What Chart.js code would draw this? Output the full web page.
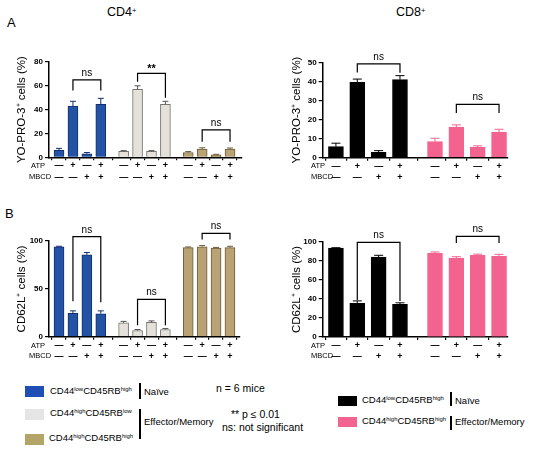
<!DOCTYPE html>
<html>
<head>
<meta charset="utf-8">
<script src="https://cdn.jsdelivr.net/npm/chart.js@4/dist/chart.umd.min.js"></script>
<style>
  body { margin: 0; width: 550px; height: 451px; position: relative; background: #fff; overflow: hidden;
         font-family: "Liberation Sans", Arial, sans-serif; color: #000; }
  canvas, .t { position: absolute; }
  .t { white-space: nowrap; line-height: 1; }
  .t sup { font-size: 0.62em; vertical-align: 0.45em; line-height: 0; }
  .sq { position: absolute; }
  .vb { position: absolute; width: 1.6px; background: #000; }
</style>
</head>
<body>
<div class="t" style="left:7px;top:16px;font-size:13px">A</div>
<div class="t" style="left:5px;top:207px;font-size:13px">B</div>
<div class="t" style="left:107px;top:6px;font-size:12.5px">CD4<sup>+</sup></div>
<div class="t" style="left:396px;top:6px;font-size:12.5px">CD8<sup>+</sup></div>

<canvas id="tl" width="260" height="135" style="left:0;top:50px"></canvas>
<canvas id="tr" width="275" height="135" style="left:275px;top:50px"></canvas>
<canvas id="bl" width="260" height="150" style="left:0;top:215px"></canvas>
<canvas id="br" width="275" height="150" style="left:275px;top:215px"></canvas>

<div class="t" style="left:31px;top:162px;font-size:7.5px">ATP</div>
<div class="t" style="left:29px;top:173px;font-size:7.5px">MBCD</div>
<div class="t" style="left:311px;top:162px;font-size:7.5px">ATP</div>
<div class="t" style="left:311px;top:173px;font-size:7.5px">MBCD</div>
<div class="t" style="left:31px;top:342px;font-size:7.5px">ATP</div>
<div class="t" style="left:29px;top:352px;font-size:7.5px">MBCD</div>
<div class="t" style="left:311px;top:342px;font-size:7.5px">ATP</div>
<div class="t" style="left:311px;top:352px;font-size:7.5px">MBCD</div>

<!-- CD4 legend -->
<div class="sq" style="left:25px;top:386px;width:19px;height:11px;background:#1f4fb5"></div>
<div class="t" style="left:50px;top:386px;font-size:9.5px">CD44<sup>low</sup>CD45RB<sup>high</sup></div>
<div class="vb" style="left:139px;top:383px;height:16px"></div>
<div class="t" style="left:144px;top:387px;font-size:9.5px">Naïve</div>
<div class="sq" style="left:25px;top:409px;width:19px;height:11px;background:#e5e5e5"></div>
<div class="t" style="left:50px;top:408px;font-size:9.5px">CD44<sup>high</sup>CD45RB<sup>low</sup></div>
<div class="sq" style="left:25px;top:434px;width:19px;height:11px;background:#b3a467"></div>
<div class="t" style="left:49px;top:433px;font-size:9.5px">CD44<sup>high</sup>CD45RB<sup>high</sup></div>
<div class="vb" style="left:139px;top:409px;height:30px"></div>
<div class="t" style="left:144px;top:417px;font-size:9.5px">Effector/Memory</div>

<div class="t" style="left:216px;top:383px;font-size:10.5px">n = 6 mice</div>
<div class="t" style="left:231px;top:409px;font-size:10.5px">** p ≤ 0.01</div>
<div class="t" style="left:222px;top:422px;font-size:10.5px">ns: not significant</div>

<!-- CD8 legend -->
<div class="sq" style="left:338px;top:396px;width:19px;height:10px;background:#000"></div>
<div class="t" style="left:362px;top:395px;font-size:9.5px">CD44<sup>low</sup>CD45RB<sup>high</sup></div>
<div class="vb" style="left:450px;top:392px;height:14px"></div>
<div class="t" style="left:455px;top:396px;font-size:9.5px">Naïve</div>
<div class="sq" style="left:338px;top:417px;width:19px;height:10px;background:#f2648f"></div>
<div class="t" style="left:362px;top:416px;font-size:9.5px">CD44<sup>high</sup>CD45RB<sup>high</sup></div>
<div class="vb" style="left:450px;top:416px;height:14px"></div>
<div class="t" style="left:455px;top:417px;font-size:9.5px">Effector/Memory</div>

<script>
// treatment rows under each bar
const signsATP = ['—', '+', '—', '+'];
const signsMBCD = ['—', '—', '+', '+'];

// YO-PRO-3+ (%) - CD4 groups: naive, CD44hi CD45RBlo, CD44hi CD45RBhi
const cd4YoPro = [[5.8, 43, 3, 44.5], [5, 57, 5, 44.5], [4, 7, 2, 7]];
const cd4YoProErr = [[1.7, 4, 1, 5], [0.6, 3, 0.6, 2.5], [0.8, 1, 0.5, 0.8]];
// YO-PRO-3+ (%) - CD8 groups: naive, CD44hi CD45RBhi
const cd8YoPro = [[5.8, 39.5, 2.8, 40.9], [8.4, 16, 5.5, 13.4]];
const cd8YoProErr = [[1.8, 1.7, 0.9, 2.1], [1.8, 1.2, 0.7, 1.5]];

// CD62L+ (%)
const cd4Cd62l = [[94, 24.5, 85.5, 24], [14.5, 6.5, 15, 7.5], [93, 94, 92.5, 93]];
const cd4Cd62lErr = [[0.5, 2.5, 2.5, 3], [1.5, 1, 1.5, 1], [0.8, 1.2, 0.8, 1.5]];
const cd8Cd62l = [[93.7, 35.5, 84, 34.5], [88, 83, 86, 85]];
const cd8Cd62lErr = [[0.3, 2.5, 2, 1.5], [1.5, 1.5, 1.2, 2]];

// significance brackets: group, bars from/to, bracket top, leg ends (in axis units)
const tlBrackets = [
    { group: 0, from: 1, to: 3, top: 65, legA: 56, legB: 56, label: 'ns' },
    { group: 1, from: 1, to: 3, top: 70.5, legA: 63.5, legB: 50, label: '**' },
    { group: 2, from: 1, to: 3, top: 23, legA: 13, legB: 13, label: 'ns' }
];
const trBrackets = [
    { group: 0, from: 1, to: 3, top: 49.2, legA: 44.7, legB: 44.5, label: 'ns' },
    { group: 1, from: 1, to: 3, top: 28, legA: 23.4, legB: 23.4, label: 'ns' }
];
const blBrackets = [
    { group: 0, from: 1, to: 3, top: 104.5, legA: 37, legB: 36, label: 'ns' },
    { group: 1, from: 1, to: 3, top: 39, legA: 12, legB: 12, label: 'ns' },
    { group: 2, from: 1, to: 3, top: 108, legA: 101.5, legB: 101.5, label: 'ns' }
];
const brBrackets = [
    { group: 0, from: 1, to: 3, top: 99.7, legA: 39, legB: 38, label: 'ns' },
    { group: 1, from: 1, to: 3, top: 106, legA: 99, legB: 99, label: 'ns' }
];

const FONT = '"Liberation Sans", Arial, sans-serif';
const GROUP_GAP = 1.64;

const cd4Colors = [
    { fill: '#2453a6', line: '#10306e', err: '#10306e' },
    { fill: '#e3e1da', line: '#77766f', err: '#555' },
    { fill: '#b9a274', line: '#6e5c38', err: '#6e5c38' }
];
const cd8Colors = [
    { fill: '#000', line: '#000', err: '#000' },
    { fill: '#f2648f', line: '#f2648f', err: '#f2648f' }
];

function barPos(group, i) {
    return group * (3 + GROUP_GAP) + i;
}

const marks = {
    id: 'marks',
    afterDatasetsDraw(chart, args, opts) {
        const ctx = chart.ctx;
        const xs = chart.scales.x, ys = chart.scales.y;
        ctx.save();
        // one-sided error bars
        chart.data.datasets.forEach((ds, di) => {
            const meta = chart.getDatasetMeta(di);
            ctx.strokeStyle = ds.errColor;
            ctx.lineWidth = 1;
            meta.data.forEach((bar, i) => {
                const v = ds.data[i].y;
                const yBar = ys.getPixelForValue(v);
                const yTop = ys.getPixelForValue(v + ds.errs[i]);
                const half = bar.width * 0.3;
                ctx.beginPath();
                ctx.moveTo(bar.x, yBar);
                ctx.lineTo(bar.x, yTop);
                ctx.moveTo(bar.x - half, yTop);
                ctx.lineTo(bar.x + half, yTop);
                ctx.stroke();
            });
        });
        // brackets
        ctx.strokeStyle = '#000';
        ctx.fillStyle = '#000';
        ctx.lineWidth = 1.2;
        ctx.textAlign = 'center';
        ctx.textBaseline = 'alphabetic';
        (opts.brackets || []).forEach(b => {
            const x1 = xs.getPixelForValue(barPos(b.group, b.from));
            const x2 = xs.getPixelForValue(barPos(b.group, b.to));
            const yT = ys.getPixelForValue(b.top);
            ctx.beginPath();
            ctx.moveTo(x1, ys.getPixelForValue(b.legA));
            ctx.lineTo(x1, yT);
            ctx.lineTo(x2, yT);
            ctx.lineTo(x2, ys.getPixelForValue(b.legB));
            ctx.stroke();
            if (b.label === '**') {
                ctx.font = 'bold 11px ' + FONT;
                ctx.fillText(b.label, (x1 + x2) / 2, yT - 1);
            } else {
                ctx.font = '10px ' + FONT;
                ctx.fillText(b.label, (x1 + x2) / 2, yT - 4);
            }
        });
        ctx.restore();
    }
};

function buildChart(id, p) {
    const datasets = p.values.map((vals, g) => ({
        data: vals.map((v, i) => ({ x: barPos(g, i), y: v })),
        errs: p.errors[g],
        errColor: p.colors[g].err,
        backgroundColor: p.colors[g].fill,
        borderColor: p.colors[g].line,
        borderWidth: 1,
        borderSkipped: 'bottom',
        barThickness: p.barWidth,
        grouped: false
    }));
    const tickAt = datasets.flatMap(d => d.data.map(pt => pt.x));

    new Chart(document.getElementById(id), {
        type: 'bar',
        data: { datasets },
        options: {
            responsive: false,
            animation: false,
            layout: { padding: p.padding },
            plugins: {
                legend: { display: false },
                tooltip: { enabled: false },
                marks: { brackets: p.brackets }
            },
            scales: {
                x: {
                    type: 'linear', min: p.xMin, max: p.xMax, offset: false,
                    afterBuildTicks: ax => { ax.ticks = tickAt.map(v => ({ value: v })); },
                    afterFit: ax => { ax.height = p.xHeight; },
                    grid: { drawOnChartArea: false, tickLength: 3, color: '#000', lineWidth: 1.2 },
                    border: { color: '#000', width: 1.5 },
                    ticks: {
                        autoSkip: false, maxRotation: 0, padding: 0, color: '#000',
                        font: { size: 9, family: FONT, weight: 'bold', lineHeight: 1.25 },
                        callback: (v, i) => [signsATP[i % 4], signsMBCD[i % 4]]
                    }
                },
                y: {
                    min: 0, max: p.yMax,
                    afterFit: ax => { ax.width = p.yWidth; },
                    grid: { drawOnChartArea: false, tickLength: 4, color: '#000', lineWidth: 1.2 },
                    border: { color: '#000', width: 1.5 },
                    ticks: { stepSize: p.yStep, padding: 2, color: '#000', font: { size: 8, family: FONT, weight: 'bold' } },
                    title: {
                        display: true, text: p.yTitle, color: '#000',
                        font: { size: 11.5, family: FONT }, padding: { top: 15, bottom: 0 }
                    }
                }
            }
        },
        plugins: [marks]
    });
}

buildChart('tl', {
    values: cd4YoPro, errors: cd4YoProErr, colors: cd4Colors, brackets: tlBrackets,
    yMax: 80, yStep: 20, yTitle: 'YO-PRO-3⁺ cells (%)',
    xMin: -0.72, xMax: 13.14, barWidth: 10,
    padding: { top: 12, right: 18, left: 0, bottom: 0 }, yWidth: 49, xHeight: 27.7
});
buildChart('tr', {
    values: cd8YoPro, errors: cd8YoProErr, colors: cd8Colors, brackets: trBrackets,
    yMax: 50, yStep: 10, yTitle: 'YO-PRO-3⁺ cells (%)',
    xMin: -0.62, xMax: 8.06, barWidth: 15,
    padding: { top: 12.3, right: 42, left: 0, bottom: 0 }, yWidth: 47.7, xHeight: 27.3
});
buildChart('bl', {
    values: cd4Cd62l, errors: cd4Cd62lErr, colors: cd4Colors, brackets: blBrackets,
    yMax: 100, yStep: 50, yTitle: 'CD62L⁺ cells (%)',
    xMin: -0.72, xMax: 13.0, barWidth: 10,
    padding: { top: 26, right: 20, left: 0, bottom: 0 }, yWidth: 49, xHeight: 28.3
});
buildChart('br', {
    values: cd8Cd62l, errors: cd8Cd62lErr, colors: cd8Colors, brackets: brBrackets,
    yMax: 100, yStep: 20, yTitle: 'CD62L⁺ cells (%)',
    xMin: -0.62, xMax: 8.06, barWidth: 15,
    padding: { top: 27, right: 42, left: 0, bottom: 0 }, yWidth: 47.7, xHeight: 28
});
</script>
</body>
</html>
